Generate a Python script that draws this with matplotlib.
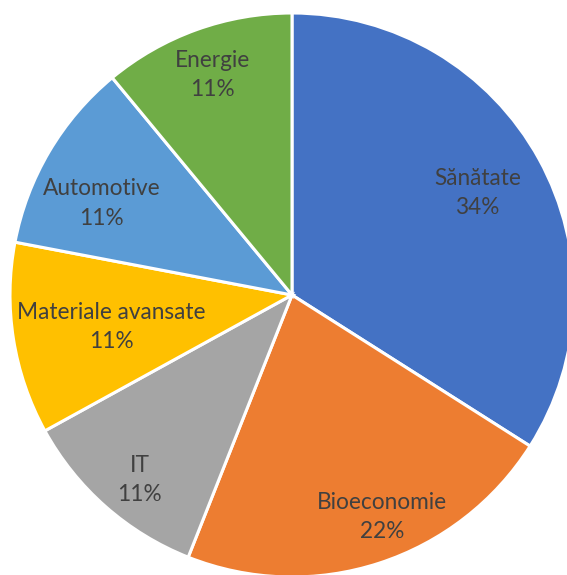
import numpy as np
import matplotlib
matplotlib.use('Agg')
from matplotlib import pyplot as plt

# Data
categories = ['Sănătate', 'Bioeconomie', 'IT', 'Materiale avansate', 'Automotive', 'Energie']
shares = [34, 22, 11, 11, 11, 11]
colors = ['#4472C4', '#ED7D31', '#A5A5A5', '#FFC000', '#5B9BD5', '#70AD47']

# label placement (fraction of radius, angle shift in degrees)
label_dist = [0.75, 0.85, 0.85, 0.65, 0.75, 0.83]
label_shift = [0, 4, 2, 1, 5, 0]

plt.rcParams['font.family'] = ['Lato', 'DejaVu Sans']

fig = plt.figure(figsize=(5.67, 5.75), dpi=100)
W, H = 567, 575
cx, cy, r = 292, 295, 282
ax = fig.add_axes([(cx - r) / W, (H - cy - r) / H, 2 * r / W, 2 * r / H])

wedges, _ = ax.pie(shares, colors=colors, startangle=90, counterclock=False,
                   radius=1, wedgeprops=dict(edgecolor='white', linewidth=2.2))

total = sum(shares)
for w, name, val, d, s in zip(wedges, categories, shares, label_dist, label_shift):
    ang = np.deg2rad((w.theta1 + w.theta2) / 2 + s)
    ax.text(d * np.cos(ang), d * np.sin(ang), f'{name}\n{round(100 * val / total)}%',
            ha='center', va='center', fontsize=16.3, color='#404040', linespacing=1.5)

ax.set_xlim(-1, 1)
ax.set_ylim(-1, 1)
ax.set_aspect('equal')
ax.axis('off')

fig.savefig('out.png', dpi=100)
